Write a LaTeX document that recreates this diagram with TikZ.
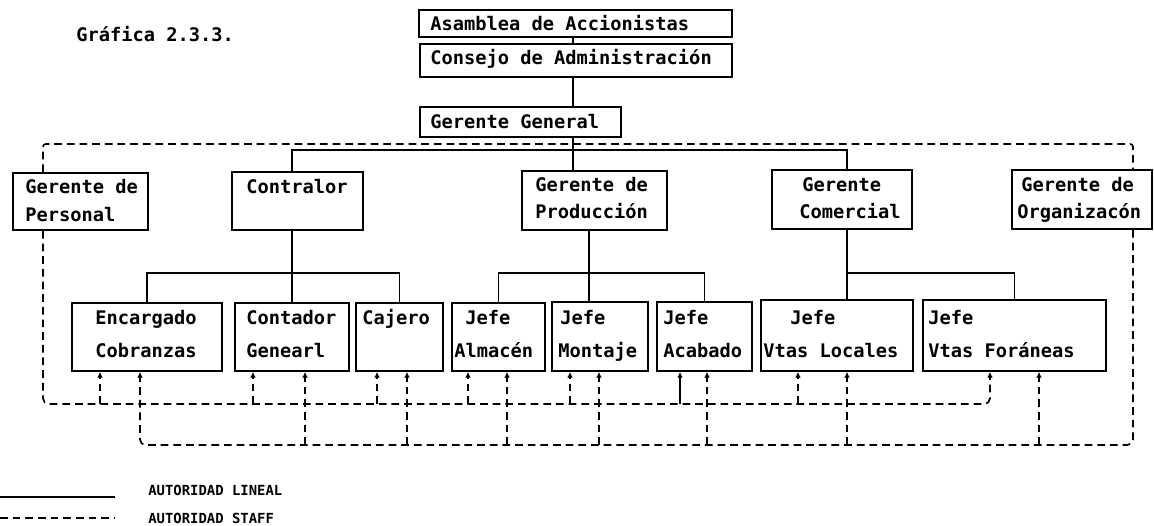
\documentclass[tikz,border=0pt]{standalone}
\usepackage{fontspec}
\setmonofont{DejaVu Sans Mono}
\usepackage{tikz}
\usetikzlibrary{fit,arrows.meta}

\begin{document}
\begin{tikzpicture}[x=0.025cm,y=-0.025cm,
    box/.style={draw,line width=1.3pt,inner sep=0pt,rectangle},
    txt/.style={anchor=west,inner sep=0pt,text height=9pt,text depth=0pt,
        font=\ttfamily\bfseries\fontsize{13.3}{15}\selectfont},
    legtxt/.style={anchor=west,inner sep=0pt,
        font=\ttfamily\bfseries\fontsize{9.9}{12}\selectfont},
    line/.style={line width=1.3pt},
    staff/.style={line width=1.2pt,dash pattern=on 5.5pt off 3.5pt},
    tip/.style={-{Latex[length=4pt,width=4pt]}}
]
\useasboundingbox (0,0) rectangle (1154,525);

% Title
\node[txt] (titulo) at (76,35) {Gráfica 2.3.3.};

% Boxes
\node[box,fit={(419,10) (732,37)}] (asam) {};
\node[box,fit={(420,44) (732,77)}] (cons) {};
\node[box,fit={(420,107) (621,137)}] (gg) {};

\node[box,fit={(13,173) (148,230)}] (pers) {};
\node[box,fit={(232,172) (363,230)}] (contr) {};
\node[box,fit={(522,171) (667,230)}] (prod) {};
\node[box,fit={(772,170) (912,229)}] (com) {};
\node[box,fit={(1012,170) (1152,229)}] (org) {};

\node[box,fit={(72,303) (222,371)}] (enc) {};
\node[box,fit={(235,303) (349,371)}] (cont) {};
\node[box,fit={(356,303) (443,371)}] (caj) {};
\node[box,fit={(452,303) (545,371)}] (alm) {};
\node[box,fit={(552,302) (648,371)}] (mont) {};
\node[box,fit={(657,302) (752,371)}] (acab) {};
\node[box,fit={(761,300) (913,371)}] (loc) {};
\node[box,fit={(923,300) (1106,371)}] (fora) {};

% Texts
\node[txt] (tAsam) at (430,24) {Asamblea de Accionistas};
\node[txt] (tCons) at (430,58) {Consejo de Administración};
\node[txt] (tGG) at (430,122) {Gerente General};

\node[txt] (tPers1) at (25,187) {Gerente de};
\node[txt] (tPers2) at (25,215) {Personal};
\node[txt] (tContr) at (246,187) {Contralor};
\node[txt] (tProd1) at (535,185) {Gerente de};
\node[txt] (tProd2) at (535,212) {Producción};
\node[txt] (tCom1) at (802,185) {Gerente};
\node[txt] (tCom2) at (799,212) {Comercial};
\node[txt] (tOrg1) at (1021,185) {Gerente de};
\node[txt] (tOrg2) at (1017,212) {Organizacón};

\node[txt] (tEnc1) at (95,318) {Encargado};
\node[txt] (tEnc2) at (95,351) {Cobranzas};
\node[txt] (tCont1) at (246,318) {Contador};
\node[txt] (tCont2) at (246,351) {Genearl};
\node[txt] (tCaj) at (362,318) {Cajero};
\node[txt] (tAlm1) at (465,318) {Jefe};
\node[txt] (tAlm2) at (454,351) {Almacén};
\node[txt] (tMont1) at (560,318) {Jefe};
\node[txt] (tMont2) at (558,351) {Montaje};
\node[txt] (tAcab1) at (663,318) {Jefe};
\node[txt] (tAcab2) at (663,351) {Acabado};
\node[txt] (tLoc1) at (790,318) {Jefe};
\node[txt] (tLoc2) at (763,351) {Vtas Locales};
\node[txt] (tFora1) at (928,318) {Jefe};
\node[txt] (tFora2) at (928,351) {Vtas Foráneas};

% Lineal authority
\coordinate (bus) at (573,150);
\coordinate (barC) at (292,273);
\coordinate (barP) at (589,273);
\coordinate (barV) at (847,273);

\draw[line] (asam.south -| bus) -- (cons.north -| bus);
\draw[line] (cons.south -| bus) -- (gg.north -| bus);
\draw[line] (gg.south -| bus) -- (prod.north -| bus);
\draw[line] (contr.north -| barC) |- (bus) -| (com.north -| barV);

\draw[line] (contr.south -| barC) -- (cont.north -| barC);
\draw[line] (enc.north) |- (barC) -| (caj.north);
\draw[line] (prod.south -| barP) -- (mont.north -| barP);
\draw[line] (alm.north) |- (barP) -| (acab.north);
\draw[line] (com.south -| barV) -- (loc.north -| barV);
\draw[line] (barV) -| (fora.north);

% Staff authority
\coordinate (stL) at (43,144);
\coordinate (stR) at (1133,144);
\coordinate (s1) at (0,404);
\coordinate (s2) at (0,445);

\draw[staff,rounded corners=2] (pers.north -| stL) |- (stR) -- (org.north -| stR);
\draw[staff,tip,rounded corners=4] (pers.south -| stL) |- (s1 -| 990,0) -- (fora.south -| 990,0);
\draw[staff,tip,rounded corners=4] (org.south -| stR) |- (s2 -| 140,0) -- (enc.south -| 140,0);

\foreach \b/\x in {enc/100,cont/253,caj/377,alm/468,mont/570,loc/798}
  \draw[staff,tip] (s1 -| \x,0) -- (\b.south -| \x,0);
\draw[line,tip] (s1 -| 680,0) -- (acab.south -| 680,0);

\foreach \b/\x in {cont/305,caj/407,alm/507,mont/599,acab/707,loc/847,fora/1039}
  \draw[staff,tip] (s2 -| \x,0) -- (\b.south -| \x,0);

% Legend
\coordinate (legA) at (0,497);
\coordinate (legB) at (115,497);
\coordinate (legC) at (0,518);
\coordinate (legD) at (115,518);
\draw[line] (legA) -- (legB);
\draw[staff] (legC) -- (legD);
\node[legtxt] (legLin) at (148,490) {AUTORIDAD LINEAL};
\node[legtxt] (legStf) at (148,518) {AUTORIDAD STAFF};
\end{tikzpicture}
\end{document}
